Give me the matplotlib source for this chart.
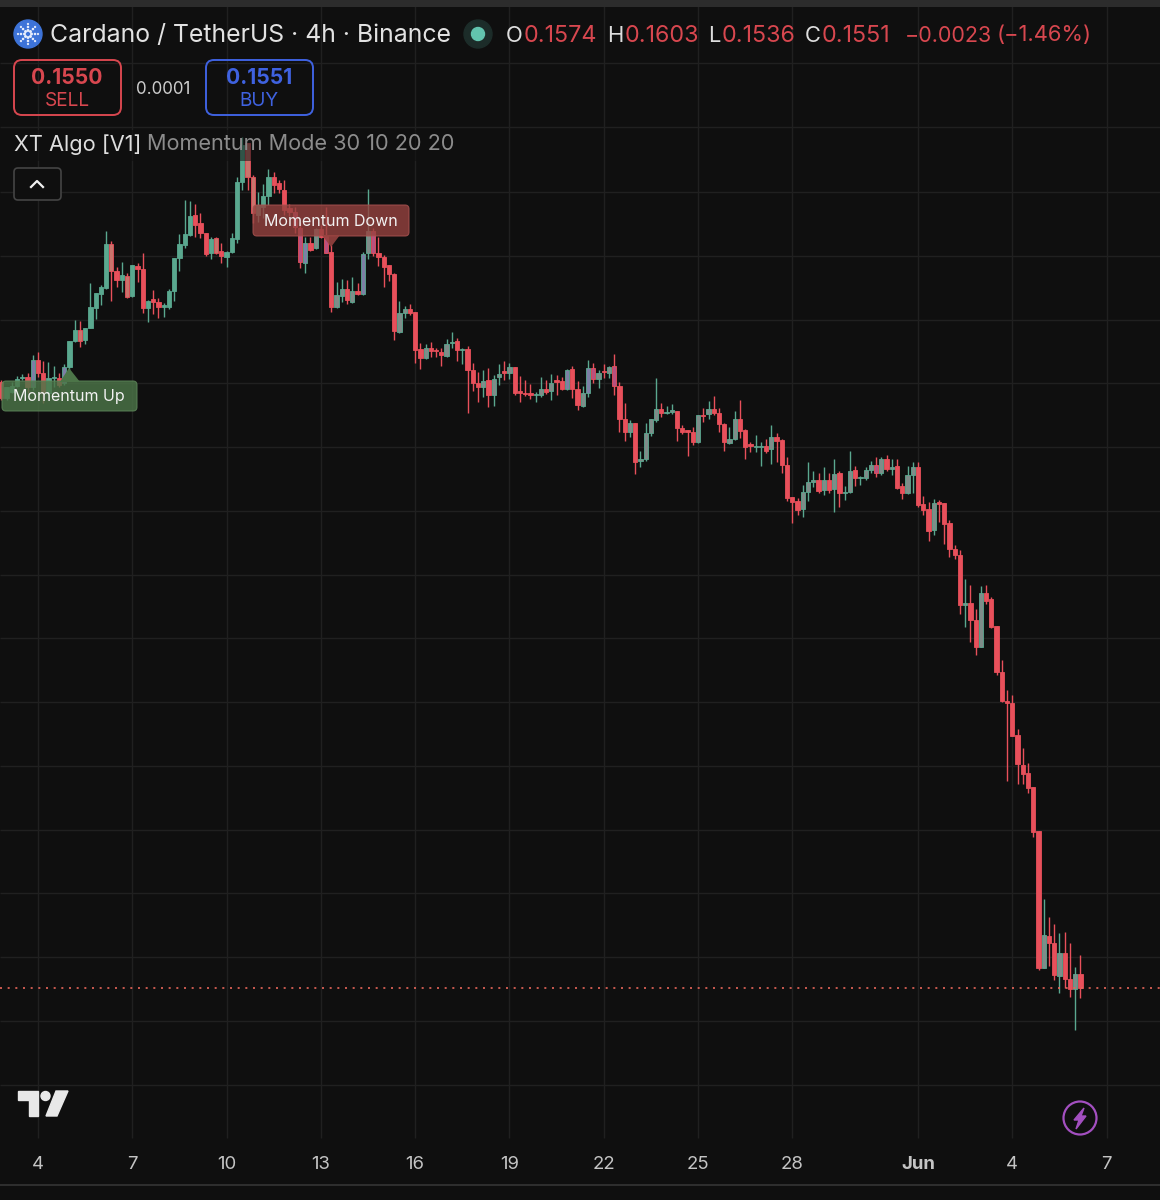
"""Cardano / TetherUS 4h candles with the XT Algo momentum labels."""

from __future__ import annotations

import matplotlib

matplotlib.use("Agg")

import matplotlib.pyplot as plt
import numpy as np
from matplotlib.patches import Circle, FancyBboxPatch, Polygon, Rectangle

plt.rcParams["font.family"] = ["Inter", "DejaVu Sans"]

# prices below are in units of 0.0001
OPENS = [
    2498, 2473, 2483, 2492, 2505, 2506, 2491, 2533, 2513, 2481, 2505, 2505, 2497, 2522, 2562, 2580, 2564, 2583,
    2614, 2636, 2645, 2714, 2672, 2658, 2664, 2633, 2680, 2675, 2614, 2628, 2623, 2616, 2616, 2641, 2692, 2712,
    2728, 2759, 2747, 2731, 2700, 2723, 2703, 2694, 2702, 2722, 2811, 2872, 2819, 2759, 2772, 2789, 2819, 2809,
    2798, 2770, 2764, 2739, 2684, 2716, 2708, 2737, 2727, 2702, 2616, 2633, 2644, 2623, 2641, 2636, 2700, 2734,
    2700, 2694, 2681, 2667, 2577, 2606, 2612, 2608, 2550, 2536, 2552, 2548, 2545, 2539, 2559, 2562, 2548, 2550,
    2517, 2497, 2491, 2502, 2478, 2506, 2514, 2513, 2522, 2484, 2481, 2481, 2478, 2478, 2487, 2484, 2502, 2500,
    2487, 2519, 2487, 2461, 2481, 2520, 2503, 2516, 2513, 2523, 2492, 2441, 2420, 2434, 2375, 2378, 2419, 2439,
    2456, 2450, 2452, 2453, 2427, 2423, 2420, 2405, 2447, 2448, 2456, 2450, 2433, 2403, 2409, 2441, 2423, 2402,
    2397, 2397, 2398, 2394, 2413, 2408, 2369, 2319, 2312, 2300, 2327, 2342, 2345, 2330, 2345, 2331, 2356, 2325,
    2327, 2361, 2348, 2348, 2361, 2369, 2356, 2378, 2363, 2367, 2336, 2325, 2353, 2366, 2308, 2300, 2267, 2311,
    2309, 2278, 2238, 2228, 2150, 2153, 2127, 2084, 2169, 2159, 2117, 2045, 2000, 1997, 1947, 1900, 1887, 1866,
    1797, 1583, 1633, 1622, 1570, 1606, 1566, 1550, 1574,
]
HIGHS = [
    2502, 2491, 2498, 2508, 2511, 2513, 2541, 2545, 2531, 2530, 2523, 2513, 2527, 2562, 2595, 2594, 2583, 2653,
    2637, 2650, 2734, 2719, 2678, 2686, 2669, 2681, 2684, 2700, 2627, 2642, 2630, 2622, 2644, 2692, 2730, 2783,
    2781, 2777, 2763, 2731, 2725, 2725, 2716, 2703, 2731, 2819, 2881, 2872, 2822, 2795, 2808, 2831, 2827, 2814,
    2814, 2777, 2772, 2748, 2725, 2725, 2739, 2744, 2772, 2713, 2655, 2659, 2658, 2663, 2653, 2702, 2800, 2739,
    2725, 2697, 2681, 2669, 2625, 2617, 2620, 2608, 2559, 2558, 2561, 2552, 2552, 2566, 2577, 2567, 2552, 2555,
    2528, 2514, 2517, 2520, 2509, 2527, 2531, 2528, 2522, 2508, 2502, 2495, 2483, 2506, 2502, 2511, 2509, 2506,
    2519, 2523, 2500, 2492, 2533, 2528, 2517, 2527, 2523, 2542, 2498, 2466, 2439, 2434, 2391, 2434, 2441, 2505,
    2466, 2461, 2464, 2453, 2431, 2423, 2428, 2447, 2458, 2469, 2477, 2458, 2434, 2428, 2453, 2470, 2425, 2405,
    2416, 2405, 2409, 2431, 2419, 2409, 2381, 2319, 2317, 2338, 2373, 2359, 2356, 2366, 2356, 2378, 2359, 2336,
    2391, 2367, 2352, 2366, 2375, 2381, 2381, 2384, 2378, 2378, 2341, 2367, 2373, 2373, 2320, 2311, 2316, 2314,
    2309, 2283, 2244, 2236, 2191, 2181, 2144, 2180, 2181, 2162, 2117, 2064, 2017, 2009, 1956, 1927, 1903, 1866,
    1797, 1691, 1663, 1652, 1638, 1639, 1622, 1584, 1603,
]
LOWS = [
    2470, 2470, 2481, 2491, 2502, 2481, 2486, 2506, 2466, 2478, 2491, 2491, 2494, 2517, 2561, 2553, 2558, 2583,
    2597, 2619, 2644, 2625, 2647, 2639, 2630, 2631, 2655, 2606, 2592, 2605, 2598, 2600, 2612, 2625, 2672, 2708,
    2727, 2725, 2723, 2695, 2691, 2698, 2684, 2678, 2700, 2716, 2798, 2798, 2747, 2748, 2755, 2775, 2794, 2794,
    2759, 2758, 2731, 2677, 2669, 2703, 2706, 2723, 2700, 2608, 2614, 2623, 2620, 2622, 2634, 2634, 2691, 2695,
    2680, 2647, 2656, 2564, 2575, 2598, 2603, 2528, 2519, 2534, 2537, 2537, 2523, 2537, 2552, 2531, 2527, 2450,
    2484, 2467, 2475, 2459, 2461, 2494, 2502, 2503, 2478, 2467, 2477, 2472, 2467, 2475, 2480, 2470, 2478, 2486,
    2486, 2473, 2455, 2459, 2475, 2497, 2489, 2505, 2505, 2478, 2420, 2406, 2413, 2355, 2366, 2375, 2414, 2436,
    2444, 2448, 2448, 2406, 2417, 2383, 2400, 2403, 2436, 2441, 2447, 2420, 2391, 2402, 2408, 2411, 2378, 2389,
    2389, 2367, 2388, 2370, 2373, 2356, 2312, 2278, 2291, 2288, 2312, 2334, 2325, 2322, 2325, 2295, 2303, 2314,
    2325, 2336, 2338, 2345, 2356, 2350, 2353, 2359, 2353, 2331, 2316, 2323, 2325, 2303, 2291, 2250, 2259, 2280,
    2245, 2225, 2222, 2136, 2116, 2092, 2072, 2084, 2152, 2114, 2041, 1998, 1875, 1945, 1870, 1870, 1856, 1787,
    1580, 1583, 1586, 1564, 1544, 1552, 1538, 1486, 1536,
]
CLOSES = [
    2473, 2491, 2492, 2503, 2506, 2491, 2533, 2513, 2481, 2505, 2506, 2494, 2522, 2562, 2580, 2562, 2583, 2616,
    2637, 2647, 2714, 2672, 2658, 2666, 2631, 2681, 2675, 2614, 2625, 2623, 2616, 2617, 2641, 2692, 2714, 2730,
    2758, 2744, 2731, 2698, 2722, 2700, 2695, 2702, 2723, 2811, 2869, 2819, 2763, 2775, 2789, 2819, 2806, 2800,
    2767, 2764, 2741, 2686, 2716, 2705, 2737, 2725, 2700, 2616, 2634, 2644, 2627, 2641, 2636, 2698, 2734, 2700,
    2694, 2678, 2667, 2578, 2606, 2612, 2606, 2548, 2536, 2552, 2547, 2547, 2541, 2558, 2561, 2548, 2550, 2517,
    2497, 2491, 2500, 2478, 2503, 2511, 2513, 2522, 2481, 2481, 2480, 2478, 2480, 2487, 2483, 2497, 2498, 2487,
    2517, 2487, 2463, 2481, 2520, 2503, 2513, 2514, 2522, 2492, 2441, 2420, 2434, 2373, 2378, 2419, 2441, 2456,
    2450, 2452, 2453, 2427, 2420, 2420, 2405, 2447, 2445, 2456, 2450, 2433, 2405, 2409, 2441, 2422, 2397, 2398,
    2398, 2398, 2391, 2413, 2406, 2369, 2317, 2311, 2298, 2327, 2342, 2345, 2328, 2345, 2330, 2355, 2325, 2327,
    2359, 2348, 2350, 2361, 2369, 2356, 2378, 2363, 2366, 2333, 2325, 2353, 2366, 2306, 2298, 2266, 2309, 2308,
    2277, 2238, 2228, 2150, 2153, 2127, 2084, 2169, 2156, 2116, 2045, 2000, 1997, 1945, 1902, 1886, 1864, 1795,
    1583, 1634, 1622, 1572, 1606, 1566, 1550, 1573, 1551,
]

# candle positions of the indicator tint on the bodies
PURPLE_UP = [6, 12, 58, 69, 108, 112]
PURPLE_DOWN = [56, 57, 62, 71, 113, 117, 167]
ORANGE_DOWN = [15, 21, 24, 41, 47, 48]
FIRST_GRAY_UP = 58

TICK_DAYS = [0, 3, 6, 9, 12, 15, 18, 21, 24, 28, 31, 34]
TICK_LABELS = ["4", "7", "10", "13", "16", "19", "22", "25", "28", "Jun", "4", "7"]
PRICE_GRID = [
    0.1400, 0.1500, 0.1600, 0.1700, 0.1798, 0.1898, 0.1998, 0.2098, 0.2197,
    0.2297, 0.2397, 0.2497, 0.2595, 0.2695, 0.2795, 0.2897, 0.2997,
]
LAST_CANDLE_DAY = 33 + 4 / 24

BG = "#0f0f0f"
GRID = "#202020"
RED = "#e8505b"
TEAL = "#5aa88f"
TEXT_RED = "#d8474f"
BLUE = "#3f62e0"

PX_PER_DAY = 31.43
PX_PER_PRICE = 6400


def px(size: float) -> float:
    return size * 0.72


def body_color(i: int, is_up: bool) -> str:
    if is_up:
        if i in PURPLE_UP:
            return "#7d7fa6"
        return "#7f8c89" if i >= FIRST_GRAY_UP else TEAL
    if i in PURPLE_DOWN:
        return "#b9507f"
    if i in ORANGE_DOWN:
        return "#c9746c"
    return RED


def draw_candles(ax: plt.Axes) -> None:
    opens = np.array(OPENS) * 1e-4
    highs = np.array(HIGHS) * 1e-4
    lows = np.array(LOWS) * 1e-4
    closes = np.array(CLOSES) * 1e-4
    days = LAST_CANDLE_DAY - (len(opens) - 1 - np.arange(len(opens))) / 6
    is_up = closes >= opens

    edge = np.where(is_up, TEAL, RED)
    ax.vlines(days, lows, highs, colors=edge, lw=1.0, zorder=3)
    fills = [body_color(i, bool(up)) for i, up in enumerate(is_up)]
    ax.bar(
        days,
        np.maximum(np.abs(closes - opens), 0.0002),
        bottom=np.minimum(opens, closes),
        width=0.135,
        color=fills,
        edgecolor=edge,
        linewidth=0.6,
        zorder=4,
    )
    ax.axhline(closes[-1], color="#e8665a", lw=1.2, dashes=(1.2, 3.4), zorder=5)


def rounded(ax, x0, y0, x1, y1, radius, **kwargs):
    ax.add_patch(
        FancyBboxPatch(
            (x0 + radius, y0 + radius),
            x1 - x0 - 2 * radius,
            y1 - y0 - 2 * radius,
            boxstyle=f"round,pad={radius},rounding_size={radius}",
            **kwargs,
        )
    )


def draw_header(ui: plt.Axes) -> None:
    ui.add_patch(Circle((28, 34), 14, color="#3d73d8"))
    for angle in np.arange(0, 360, 45):
        for dist, size in ((3.5, 1.1), (7, 0.8), (10, 0.6)):
            dx, dy = dist * np.cos(np.radians(angle)), dist * np.sin(np.radians(angle))
            ui.add_patch(Circle((28 + dx, 34 + dy), size * 0.7, color="#e8eefc"))
    ui.text(50, 35.5, "Cardano / TetherUS · 4h · Binance", color="#e2e2e2", fontsize=px(24.8), va="center")
    ui.add_patch(Circle((478, 34), 14, color="#1c2c29"))
    ui.add_patch(Circle((478, 34), 6.5, color="#62c4ae"))

    for x, label, color, size in (
        (506, "O", "#dddddd", 22),
        (524, "0.1574", TEXT_RED, 23.3),
        (607, "H", "#dddddd", 22),
        (625, "0.1603", TEXT_RED, 23.3),
        (708, "L", "#dddddd", 22),
        (722, "0.1536", TEXT_RED, 23.3),
        (805, "C", "#dddddd", 22),
        (822, "0.1551", TEXT_RED, 23.3),
        (905, "−0.0023", TEXT_RED, 21.5),
        (997, "(−1.46%)", TEXT_RED, 22),
    ):
        ui.text(x, 35.5, label, color=color, fontsize=px(size), va="center")

    rounded(ui, 14, 60, 121, 115, 8, fc="none", ec=TEXT_RED, lw=1.4)
    ui.text(67, 78.5, "0.1550", color=TEXT_RED, fontsize=px(21), weight="bold", ha="center", va="center")
    ui.text(67, 101, "SELL", color=TEXT_RED, fontsize=px(19), ha="center", va="center")
    ui.text(163, 89, "0.0001", color="#cccccc", fontsize=px(17), ha="center", va="center")
    rounded(ui, 206, 60, 313, 115, 8, fc="none", ec=BLUE, lw=1.4)
    ui.text(259, 78.5, "0.1551", color=BLUE, fontsize=px(21), weight="bold", ha="center", va="center")
    ui.text(259, 101, "BUY", color=BLUE, fontsize=px(19), ha="center", va="center")

    # the legend row dims the candles behind it
    ui.add_patch(Rectangle((14, 130), 442, 31, color=BG, alpha=0.55, lw=0))
    ui.text(14, 144.5, "XT Algo [V1]", color="#dedede", fontsize=px(21.8), va="center")
    ui.text(147, 144.5, "Momentum Mode 30 10 20 20", color="#8c8c8c", fontsize=px(21.7), va="center")

    rounded(ui, 14, 168, 61, 200, 4, fc=BG, ec="#444444", lw=1.2)
    ui.plot([31, 37, 43], [187, 181, 187], color="#f0f0f0", lw=1.6)


def draw_labels(ui: plt.Axes) -> None:
    rounded(ui, 2, 381, 137, 411, 4, fc="#4c7548", ec="#5c8558", lw=0.8, alpha=0.82, zorder=6)
    ui.add_patch(Polygon([(60, 382), (69, 368), (80, 382)], fc="#4c7548", lw=0, zorder=6))
    ui.text(69, 396.5, "Momentum Up", color="#f2f2f2", fontsize=px(16), ha="center", va="center", zorder=7)

    rounded(ui, 253, 205, 409, 236, 4, fc="#96423f", ec="#a85250", lw=0.8, alpha=0.8, zorder=6)
    ui.add_patch(Polygon([(322, 235), (331, 247), (340, 235)], fc="#96423f", alpha=0.9, lw=0, zorder=6))
    ui.text(331, 221.5, "Momentum Down", color="#f2f2f2", fontsize=px(16), ha="center", va="center", zorder=7)


def draw_footer(ui: plt.Axes) -> None:
    ui.add_patch(Polygon([(18, 1091), (38, 1091), (38, 1116), (29, 1116), (29, 1100), (18, 1100)], color="#e8e8e8"))
    ui.add_patch(Circle((45.5, 1096), 4.5, color="#e8e8e8"))
    ui.add_patch(Polygon([(56, 1091), (68, 1091), (57, 1116), (46, 1116)], color="#e8e8e8"))

    ui.add_patch(Circle((1080, 1118), 16.5, fc="none", ec="#a34fc0", lw=1.6))
    ui.add_patch(
        Polygon(
            [(1084, 1108), (1074, 1120), (1079, 1120), (1076, 1129), (1086, 1116), (1081, 1116)],
            color="#a34fc0",
        )
    )
    ui.add_patch(Rectangle((0, 1184), 1160, 2, color="#2e2e2e", lw=0))
    ui.add_patch(Rectangle((0, 0), 1160, 6.5, color="#2c2c2c", lw=0))


def main() -> int:
    fig = plt.figure(figsize=(11.6, 12), dpi=100, facecolor=BG)
    ax = fig.add_axes([0, 0, 1, 1], facecolor=BG)
    ax.set_xlim(-38 / PX_PER_DAY, (1160 - 38) / PX_PER_DAY)
    ax.set_ylim(0.16 - (1200 - 957) / PX_PER_PRICE, 0.16 + 957 / PX_PER_PRICE)
    ax.axis("off")

    xaxis_trans = ax.get_xaxis_transform()
    ax.vlines(TICK_DAYS, 1 - 1138 / 1200, 1, colors=GRID, lw=1.0, transform=xaxis_trans, zorder=1)
    ax.hlines(PRICE_GRID, 0, 1, colors=GRID, lw=1.0, transform=ax.get_yaxis_transform(), zorder=1)
    draw_candles(ax)

    for day, label in zip(TICK_DAYS, TICK_LABELS):
        ax.text(
            day,
            1 - 1164.5 / 1200,
            label,
            transform=xaxis_trans,
            color="#c4c4c4",
            fontsize=px(18.5),
            weight="bold" if label == "Jun" else "normal",
            ha="center",
            va="center",
        )

    ui = fig.add_axes([0, 0, 1, 1], facecolor="none")
    ui.set_xlim(0, 1160)
    ui.set_ylim(1200, 0)
    ui.axis("off")
    draw_header(ui)
    draw_labels(ui)
    draw_footer(ui)

    fig.savefig("out.png", dpi=100, facecolor=BG)
    plt.close(fig)
    return 0


if __name__ == "__main__":
    raise SystemExit(main())
